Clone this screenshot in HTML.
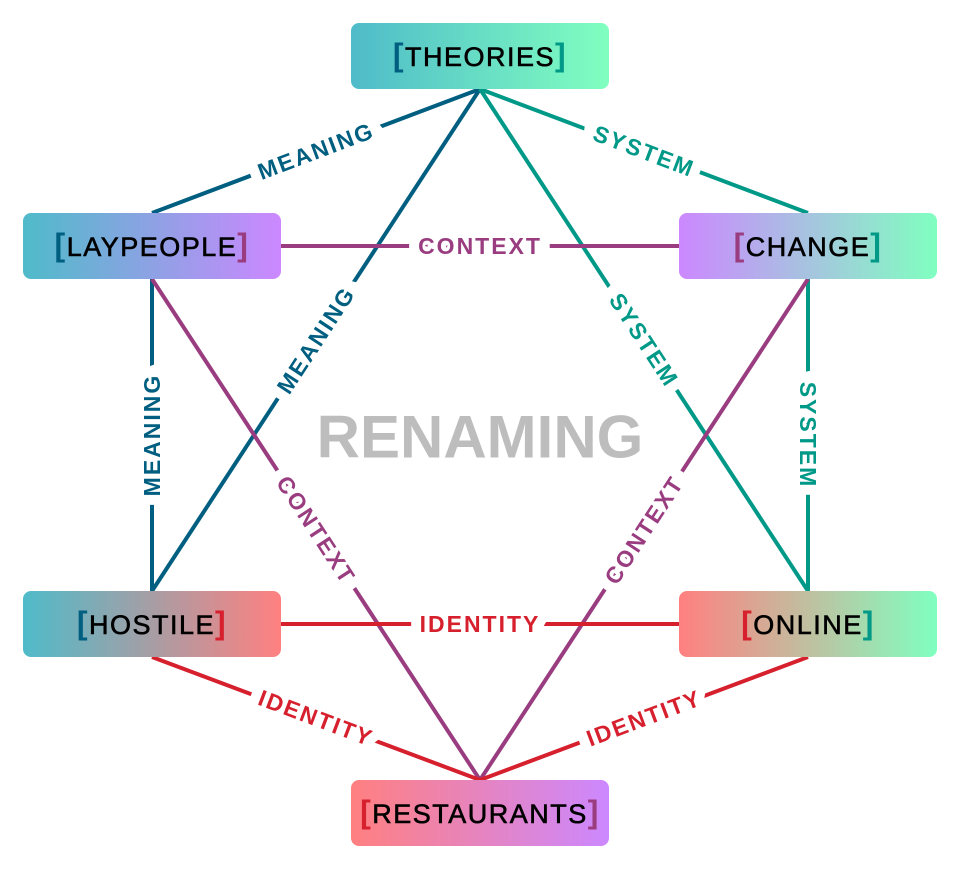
<!DOCTYPE html>
<html><head><meta charset="utf-8"><style>html,body{margin:0;padding:0;background:#fff}svg{display:block}</style></head><body>
<svg width="960" height="870" viewBox="0 0 960 870" xmlns="http://www.w3.org/2000/svg">
<defs>
<linearGradient id="gT" x1="0" x2="1"><stop offset="0" stop-color="#4fbbc9"/><stop offset="1" stop-color="#80ffc0"/></linearGradient>
<linearGradient id="gL" x1="0" x2="1"><stop offset="0" stop-color="#4fbbc9"/><stop offset="1" stop-color="#cc88ff"/></linearGradient>
<linearGradient id="gC" x1="0" x2="1"><stop offset="0" stop-color="#cc88ff"/><stop offset="1" stop-color="#80ffc0"/></linearGradient>
<linearGradient id="gH" x1="0" x2="1"><stop offset="0" stop-color="#4fbbc9"/><stop offset="1" stop-color="#ff8080"/></linearGradient>
<linearGradient id="gO" x1="0" x2="1"><stop offset="0" stop-color="#ff8080"/><stop offset="1" stop-color="#80ffc0"/></linearGradient>
<linearGradient id="gR" x1="0" x2="1"><stop offset="0" stop-color="#ff8080"/><stop offset="1" stop-color="#cc88ff"/></linearGradient>
</defs>
<g stroke-width="4" fill="none">
<line x1="480" y1="89" x2="152" y2="213" stroke="#005f80"/>
<line x1="480" y1="89" x2="152" y2="591" stroke="#005f80"/>
<line x1="152" y1="279" x2="152" y2="591" stroke="#005f80"/>
<line x1="480" y1="89" x2="808" y2="213" stroke="#009988"/>
<line x1="480" y1="89" x2="808" y2="591" stroke="#009988"/>
<line x1="808" y1="279" x2="808" y2="591" stroke="#009988"/>
<line x1="281" y1="246" x2="679" y2="246" stroke="#993d80"/>
<line x1="152" y1="279" x2="480" y2="780" stroke="#993d80"/>
<line x1="808" y1="279" x2="480" y2="780" stroke="#993d80"/>
<line x1="281" y1="624" x2="679" y2="624" stroke="#d6202e"/>
<line x1="152" y1="657" x2="480" y2="780" stroke="#d6202e"/>
<line x1="808" y1="657" x2="480" y2="780" stroke="#d6202e"/>
</g>
<g font-family="Liberation Sans, sans-serif" font-weight="bold" font-size="23" text-anchor="middle" dominant-baseline="central" stroke="#fff" stroke-width="20" paint-order="stroke" stroke-linejoin="miter" letter-spacing="2">
<text transform="translate(316,151) rotate(-20.7)" fill="#005f80">MEANING</text>
<text transform="translate(316,340) rotate(-56.8)" fill="#005f80">MEANING</text>
<text transform="translate(152,435) rotate(-90)" fill="#005f80">MEANING</text>
<text transform="translate(644,151) rotate(20.7)" fill="#009988">SYSTEM</text>
<text transform="translate(644,340) rotate(56.8)" fill="#009988">SYSTEM</text>
<text transform="translate(808,435) rotate(90)" fill="#009988">SYSTEM</text>
<text transform="translate(480,246)" fill="#993d80">CONTEXT</text>
<text transform="translate(316,530) rotate(56.8)" fill="#993d80">CONTEXT</text>
<text transform="translate(644,530) rotate(-56.8)" fill="#993d80">CONTEXT</text>
<text transform="translate(480,624)" fill="#d6202e">IDENTITY</text>
<text transform="translate(316,718) rotate(20.6)" fill="#d6202e">IDENTITY</text>
<text transform="translate(644,718) rotate(-20.6)" fill="#d6202e">IDENTITY</text>
</g>
<text x="480" y="437" font-family="Liberation Sans, sans-serif" font-weight="bold" font-size="60" fill="#bdbdbd" text-anchor="middle" dominant-baseline="central">RENAMING</text>
<g font-family="Liberation Sans, sans-serif" font-size="27" text-anchor="middle" letter-spacing="1.5" stroke="#000" stroke-width="0.6">
<rect x="351" y="23" width="258" height="66" rx="8" fill="url(#gT)" stroke="none"/>
<text x="480" y="66"><tspan fill="#005f80" stroke="none" font-weight="bold" font-size="32">[</tspan>THEORIES<tspan fill="#009988" stroke="none" font-weight="bold" font-size="32">]</tspan></text>
<rect x="23" y="213" width="258" height="66" rx="8" fill="url(#gL)" stroke="none"/>
<text x="152" y="256"><tspan fill="#005f80" stroke="none" font-weight="bold" font-size="32">[</tspan>LAYPEOPLE<tspan fill="#993d80" stroke="none" font-weight="bold" font-size="32">]</tspan></text>
<rect x="679" y="213" width="258" height="66" rx="8" fill="url(#gC)" stroke="none"/>
<text x="808" y="256"><tspan fill="#993d80" stroke="none" font-weight="bold" font-size="32">[</tspan>CHANGE<tspan fill="#009988" stroke="none" font-weight="bold" font-size="32">]</tspan></text>
<rect x="23" y="591" width="258" height="66" rx="8" fill="url(#gH)" stroke="none"/>
<text x="152" y="634"><tspan fill="#005f80" stroke="none" font-weight="bold" font-size="32">[</tspan>HOSTILE<tspan fill="#d6202e" stroke="none" font-weight="bold" font-size="32">]</tspan></text>
<rect x="679" y="591" width="258" height="66" rx="8" fill="url(#gO)" stroke="none"/>
<text x="808" y="634"><tspan fill="#d6202e" stroke="none" font-weight="bold" font-size="32">[</tspan>ONLINE<tspan fill="#009988" stroke="none" font-weight="bold" font-size="32">]</tspan></text>
<rect x="351" y="780" width="258" height="66" rx="8" fill="url(#gR)" stroke="none"/>
<text x="480" y="823"><tspan fill="#d6202e" stroke="none" font-weight="bold" font-size="32">[</tspan>RESTAURANTS<tspan fill="#993d80" stroke="none" font-weight="bold" font-size="32">]</tspan></text>
</g>
</svg>
</body></html>
